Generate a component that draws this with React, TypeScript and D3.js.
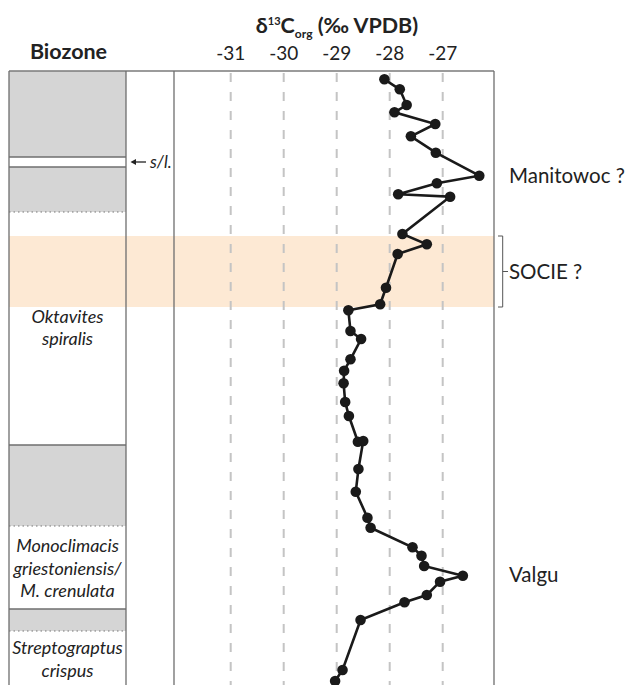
import React from "react";
import * as d3 from "d3";

// δ13C org values (‰ VPDB) and depth (arbitrary units, top = 0)
const depths = [0.83, 1.83, 3.4, 4.13, 5.3, 6.53, 8.17, 10.47, 11.23, 12.33, 12.57, 16.3, 17.33, 18.3, 21.67, 23.33, 23.93, 26.0, 26.8, 28.83, 29.97, 31.23, 33.1, 34.5, 37.07, 37.0, 39.8, 42.07, 44.67, 45.67, 47.63, 48.47, 49.5, 50.47, 51.07, 52.4, 53.13, 54.9, 59.9, 61.0];
const d13c = [-28.1, -27.81, -27.68, -27.91, -27.14, -27.6, -27.13, -26.31, -27.11, -27.84, -26.86, -27.76, -27.3, -27.85, -28.07, -28.18, -28.78, -28.74, -28.54, -28.74, -28.86, -28.87, -28.84, -28.77, -28.6, -28.5, -28.59, -28.64, -28.42, -28.36, -27.57, -27.4, -27.35, -26.62, -27.05, -27.3, -27.72, -28.55, -28.89, -29.03];

const xTicks = [-31, -30, -29, -28, -27];

// biozone column: gray (uncertain) intervals [top, bottom]
const grayTops = [0, 9.6, 37.4, 53.8];
const grayBottoms = [8.6, 14.1, 45.5, 56.0];
const solidBoundaries = [8.6, 9.6, 37.4, 53.8];
const dottedBoundaries = [14.1, 45.5, 56.0];
const socieBand = [16.5, 23.6];

const zoneNames = [
  ["Oktavites", "spiralis"],
  ["Monoclimacis", "griestoniensis/", "M. crenulata"],
  ["Streptograptus", "crispus"],
];
const zoneLabelDepths = [24.57, 47.5, 57.7];

const eventLabels = ["Manitowoc ?", "SOCIE ?", "Valgu"];
const eventDepths = [10.5, 20.05, 50.4];

const W = 634;
const H = 685;
const FONT = "Lato, 'Open Sans', sans-serif";

export default function App() {
  const top = 71;
  const colL = 9;
  const colB = 126;
  const colC = 174;
  const right = 494;

  const x = d3.scaleLinear().domain([-31, -27]).range([230.7, 442.7]);
  const y = d3.scaleLinear().domain([0, 61.4]).range([top, H]);

  const pts = depths.map((d, i) => [x(d13c[i]), y(d)] as [number, number]);
  const line = d3.line()(pts) || "";

  return (
    <svg width={W} height={H} style={{ position: "absolute", left: 0, top: 0, background: "#fff" }} fontFamily={FONT}>
      {/* SOCIE band */}
      <rect x={colL} y={y(socieBand[0])} width={right - colL} height={y(socieBand[1]) - y(socieBand[0])} fill="#fde9d4" />

      {/* gray intervals */}
      {grayTops.map((t, i) => (
        <rect key={"g" + i} x={colL} y={y(t)} width={colB - colL} height={y(grayBottoms[i]) - y(t)} fill="#d5d5d5" />
      ))}
      {solidBoundaries.map((b, i) => (
        <line key={"s" + i} x1={colL} x2={colB} y1={y(b)} y2={y(b)} stroke="#6e6e6e" strokeWidth={1.3} />
      ))}
      {dottedBoundaries.map((b, i) => (
        <line key={"d" + i} x1={colL} x2={colB} y1={y(b)} y2={y(b)} stroke="#777" strokeWidth={1} strokeDasharray="1.5,3" />
      ))}

      {/* grid lines */}
      {xTicks.map((t) => (
        <line key={"gl" + t} x1={x(t)} x2={x(t)} y1={top} y2={H} stroke="#c4c4c4" strokeWidth={2} strokeDasharray="9,10" strokeDashoffset={-2} />
      ))}

      {/* frame */}
      <line x1={colL} x2={right} y1={top} y2={top} stroke="#7a7a7a" strokeWidth={1.6} />
      {[colL, colB, colC, right].map((xx, i) => (
        <line key={"f" + i} x1={xx} x2={xx} y1={top} y2={H} stroke="#6e6e6e" strokeWidth={1.3} />
      ))}

      {/* data */}
      <path d={line} fill="none" stroke="#1a1a1a" strokeWidth={2.6} />
      {pts.map((p, i) => (
        <circle key={"c" + i} cx={p[0]} cy={p[1]} r={5.3} fill="#1a1a1a" />
      ))}

      {/* header */}
      <text x={68.5} y={59} textAnchor="middle" fontSize={21.5} fontWeight="bold" fill="#222">Biozone</text>
      <text x={337} y={33} textAnchor="middle" fontSize={21.5} fontWeight="bold" fill="#222">
        δ<tspan fontSize={11} dy={-8}>13</tspan><tspan dy={8}>C</tspan><tspan fontSize={12} dy={5}>org</tspan><tspan dy={-5}> (‰ VPDB)</tspan>
      </text>
      {xTicks.map((t) => (
        <text key={"t" + t} x={x(t)} y={60} textAnchor="middle" fontSize={19} fill="#222">{t}</text>
      ))}

      {/* zone names */}
      {zoneNames.map((lines, i) =>
        lines.map((s, j) => (
          <text key={"z" + i + j} x={67.5} y={y(zoneLabelDepths[i]) + j * 22.7 + 6} textAnchor="middle" fontSize={18} fontStyle="italic" fill="#222">{s}</text>
        ))
      )}

      {/* s/l marker */}
      <line x1={146} x2={134} y1={y(9.1)} y2={y(9.1)} stroke="#222" strokeWidth={1.3} />
      <path d={`M130.5,${y(9.1)} L136,${y(9.1) - 3} L136,${y(9.1) + 3} Z`} fill="#222" />
      <text x={150} y={y(9.1) + 6} fontSize={17} fontStyle="italic" fill="#222">s/l.</text>

      {/* SOCIE bracket */}
      <path d={`M498,${y(socieBand[0])} H502.7 V${y(socieBand[1])} H498`} fill="none" stroke="#555" strokeWidth={1} />
      <line x1={502.7} x2={508} y1={y(eventDepths[1])} y2={y(eventDepths[1])} stroke="#555" strokeWidth={1} />

      {/* event labels */}
      {eventLabels.map((s, i) => (
        <text key={"e" + i} x={509} y={y(eventDepths[i]) + 7} fontSize={20.5} fill="#222">{s}</text>
      ))}
    </svg>
  );
}
